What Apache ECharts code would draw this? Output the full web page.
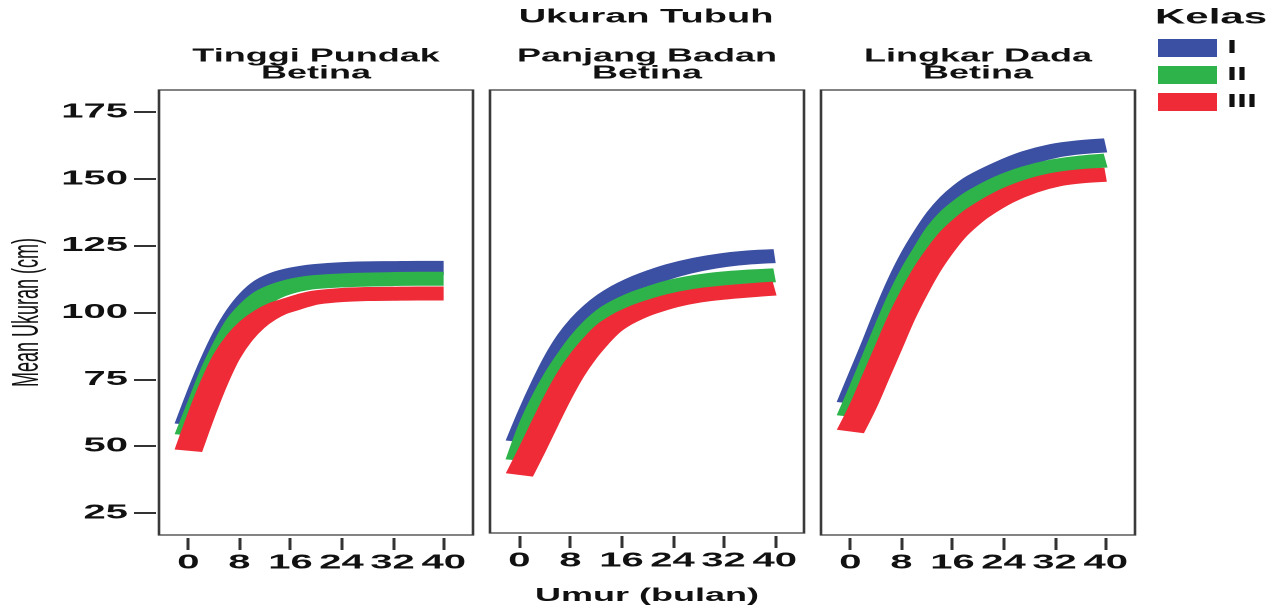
<!DOCTYPE html>
<html>
<head>
<meta charset="utf-8">
<script src="https://cdn.jsdelivr.net/npm/echarts@6/dist/echarts.min.js"></script>
<style>
html,body{margin:0;padding:0;background:#fff;overflow:hidden;width:1272px;height:610px}
#stretch{width:636px;height:610px;transform:scaleX(2);transform-origin:0 0}
#chart{width:636px;height:610px}
</style>
</head>
<body>
<div id="stretch"><div id="chart"></div></div>
<script>
// ---- data ----
const ages = [0, 2, 4, 6, 8, 10, 12, 14, 16, 18, 20, 24, 28, 32, 36, 40];
const classes = ['I', 'II', 'III'];
const panelTitles = ['Tinggi Pundak\nBetina', 'Panjang Badan\nBetina', 'Lingkar Dada\nBetina'];
const xTicks = [0, 8, 16, 24, 32, 40];
const yTicks = [25, 50, 75, 100, 125, 150, 175];

// Tinggi Pundak
const tpI   = [58, 70.5, 82, 92, 100, 106, 110.2, 112.6, 114, 114.9, 115.5, 116.2, 116.5, 116.6, 116.7, 116.7];
const tpII  = [54, 66, 78, 88, 96.5, 102, 106, 108.3, 109.8, 110.8, 111.4, 112, 112.3, 112.5, 112.6, 112.6];
const tpIII = [48.3, 61.5, 73.5, 83.5, 90.5, 95.5, 99, 101.5, 103, 104.5, 105.6, 106.5, 106.9, 107, 107.1, 107.1];
// Panjang Badan
const pbI   = [51, 62.5, 73, 82.5, 90.3, 96.3, 101, 104.8, 107.8, 110.2, 112.2, 115.4, 117.7, 119.3, 120.3, 120.8];
const pbII  = [44, 57, 67.3, 76, 83.3, 89.8, 95.1, 99.3, 102.2, 104.5, 106.3, 109.3, 111.2, 112.4, 113.1, 113.6];
const pbIII = [38.6, 48.1, 58, 67.6, 76.2, 83.2, 88.9, 93.7, 96.9, 99.3, 101.2, 104.1, 106, 107.1, 107.9, 108.6];
// Lingkar Dada
const ldI   = [66, 77.5, 89, 101, 112, 121.5, 129.5, 136.5, 142, 146.2, 149.5, 154.2, 158, 160.5, 161.8, 162.5];
const ldII  = [61, 72, 83.5, 95, 106, 115.5, 123.5, 131, 136.5, 140.5, 143.8, 148.8, 152.3, 154.7, 156, 156.8];
const ldIII = [55.5, 65, 76, 87, 98, 107.5, 116, 123, 129, 133.5, 137.3, 143, 147, 149.6, 150.9, 151.5];

const panelSeries = [[tpI, tpII, tpIII], [pbI, pbII, pbIII], [ldI, ldII, ldIII]];

// ---- styling ----
const FONT = '"Liberation Sans", Arial, Helvetica, sans-serif';
const colors = ['#3c50a3', '#2eb34b', '#ee2b36'];
const gridLefts = [79.5, 245, 410.5];
const TXT = '#111';

const chart = echarts.init(document.getElementById('chart'), null, {renderer: 'canvas', devicePixelRatio: 2});

const grid = gridLefts.map(l => ({
  left: l, top: 90, width: 157, height: 445,
  show: true, borderColor: '#3a3a3a', borderWidth: 1.3, backgroundColor: '#fff'
}));

const xAxis = gridLefts.map((_, i) => ({
  gridIndex: i, type: 'value', min: -4.6, max: 44.6, offset: 3,
  name: i === 1 ? 'Umur (bulan)' : '', nameLocation: 'middle', nameGap: 51,
  nameTextStyle: {fontFamily: FONT, fontWeight: 'bold', fontSize: 18, color: TXT},
  axisLine: {show: false, onZero: false},
  axisTick: {show: true, length: 12, customValues: xTicks, lineStyle: {color: '#333', width: 1.5}},
  axisLabel: {customValues: xTicks, fontFamily: FONT, fontWeight: 'bold', fontSize: 20, color: TXT, margin: 15},
  splitLine: {show: false}
}));

const yAxis = gridLefts.map((_, i) => ({
  gridIndex: i, type: 'value', min: 16.8, max: 183.2, offset: 1.5,
  name: i === 0 ? 'Mean Ukuran (cm)' : '', nameLocation: 'middle', nameGap: 55,
  nameTextStyle: {fontFamily: FONT, fontSize: 18, color: TXT},
  axisLine: {show: false, onZero: false},
  axisTick: {show: i === 0, length: 11, customValues: yTicks, lineStyle: {color: '#333', width: 2}},
  axisLabel: {show: i === 0, customValues: yTicks, fontFamily: FONT, fontWeight: 'bold', fontSize: 20, color: TXT, margin: 14},
  splitLine: {show: false}
}));

const series = [];
panelSeries.forEach((set, p) => {
  set.forEach((vals, k) => {
    series.push({
      name: classes[k], type: 'line', xAxisIndex: p, yAxisIndex: p,
      data: ages.map((a, j) => [a, vals[j]]),
      symbol: 'none', smooth: 0.35, color: colors[k],
      itemStyle: {color: colors[k]},
      lineStyle: {color: colors[k], width: 14, cap: 'butt', join: 'round'},
      emphasis: {disabled: true}, silent: true, z: 2 + k
    });
  });
});

const graphic = [
  {type: 'text', x: 323, y: 17.5, style: {text: 'Ukuran Tubuh', font: 'bold 19px ' + FONT, fill: TXT, align: 'center', verticalAlign: 'middle'}},
  {type: 'text', x: 577.5, y: 17.5, style: {text: 'Kelas', font: 'bold 21px ' + FONT, fill: TXT, align: 'left', verticalAlign: 'middle'}}
].concat(gridLefts.map((l, i) => ({
  type: 'text', x: l + 78.5, y: 65,
  style: {text: panelTitles[i], font: 'bold 18px ' + FONT, lineHeight: 17, fill: TXT, align: 'center', verticalAlign: 'middle'}
})));

chart.setOption({
  animation: false,
  backgroundColor: '#fff',
  grid, xAxis, yAxis, series, graphic,
  legend: {
    data: classes, orient: 'vertical', left: 579, top: 39, padding: 0,
    itemWidth: 29.5, itemHeight: 18, itemGap: 9, icon: 'rect', selectedMode: false,
    textStyle: {fontFamily: FONT, fontWeight: 'bold', fontSize: 18, lineHeight: 18, color: TXT}
  }
});
</script>
</body>
</html>
